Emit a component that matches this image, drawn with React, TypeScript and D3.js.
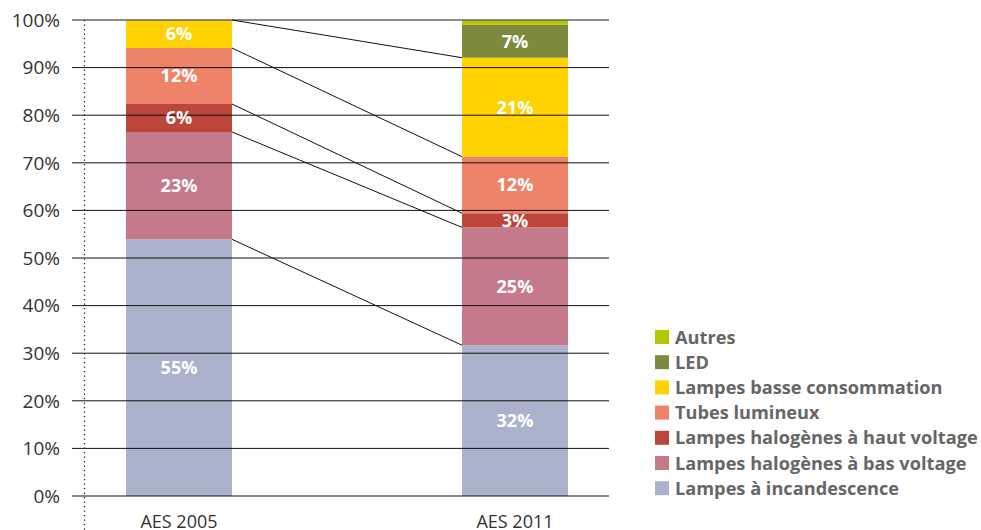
import React from "react";
import * as d3 from "d3";

const categories = ["AES 2005", "AES 2011"];
const seriesNames = [
  "Lampes à incandescence",
  "Lampes halogènes à bas voltage",
  "Lampes halogènes à haut voltage",
  "Tubes lumineux",
  "Lampes basse consommation",
  "LED",
  "Autres",
];
const seriesColors = ["#abb2cc", "#c47a8b", "#bd463a", "#ee836a", "#ffd200", "#7d8a3d", "#b3c800"];
const values2005 = [55, 23, 6, 12, 6, 0, 0];
const values2011 = [32, 25, 3, 12, 21, 7, 1];
const showLabel2011 = [true, true, true, true, true, true, false];
const yTicks = [0, 10, 20, 30, 40, 50, 60, 70, 80, 90, 100];

const W = 981;
const H = 530;
const font = "'Open Sans', 'Noto Sans', sans-serif";

export default function App() {
  const y = d3.scaleLinear().domain([0, 100]).range([496, 20]);
  const x = d3.scaleBand().domain(categories).range([58.8, 635.2]).paddingInner(0.6845).paddingOuter(0.2);
  const bw = x.bandwidth();
  const data = [values2005, values2011];
  const stacks = data.map((vals) => {
    const total = d3.sum(vals);
    let acc = 0;
    return vals.map((v) => {
      const y0 = (acc / total) * 100;
      acc += v;
      const y1 = (acc / total) * 100;
      return { v, y0, y1 };
    });
  });
  const x0 = x(categories[0])!;
  const x1 = x(categories[1])!;

  return (
    <svg width={W} height={H} style={{ position: "absolute", left: 0, top: 0, background: "#fff" }}>
      {stacks.map((st, ci) =>
        st.map((s, si) =>
          s.v > 0 ? (
            <rect
              key={`b${ci}-${si}`}
              x={x(categories[ci])}
              y={y(s.y1)}
              width={bw}
              height={y(s.y0) - y(s.y1)}
              fill={seriesColors[si]}
            />
          ) : null
        )
      )}
      {yTicks.map((t) => (
        <line
          key={`g${t}`}
          x1={72}
          x2={609}
          y1={y(t)}
          y2={y(t)}
          stroke={t === 100 ? "#666" : "#111"}
          strokeWidth={t === 100 ? 1.5 : 1}
        />
      ))}
      <line x1={84.5} x2={84.5} y1={20} y2={530} stroke="#222" strokeWidth={1.3} strokeDasharray="1.3,3.2" />
      {stacks[0].map((s, si) =>
        s.v > 0 ? (
          <line
            key={`c${si}`}
            x1={x0 + bw}
            y1={y(s.y1)}
            x2={x1}
            y2={y(stacks[1][si].y1)}
            stroke="#111"
            strokeWidth={1}
          />
        ) : null
      )}
      {stacks.map((st, ci) =>
        st.map((s, si) =>
          s.v > 0 && (ci === 0 || showLabel2011[si]) ? (
            <text
              key={`l${ci}-${si}`}
              x={x(categories[ci])! + bw / 2}
              y={(y(s.y0) + y(s.y1)) / 2}
              dy="0.36em"
              textAnchor="middle"
              fill="#fff"
              fontFamily={font}
              fontWeight="bold"
              fontSize={18}
            >
              {s.v}%
            </text>
          ) : null
        )
      )}
      {yTicks.map((t) => (
        <text
          key={`t${t}`}
          x={60}
          y={y(t)}
          dy="0.36em"
          textAnchor="end"
          fill="#333"
          fontFamily={font}
          fontSize={19}
        >
          {t}%
        </text>
      ))}
      {categories.map((c) => (
        <text
          key={c}
          x={x(c)! + bw / 2}
          y={528}
          textAnchor="middle"
          fill="#333"
          fontFamily={font}
          fontSize={18}
        >
          {c}
        </text>
      ))}
      {seriesNames
        .map((n, i) => ({ n, i }))
        .reverse()
        .map((d, k) => (
          <g key={d.n} transform={`translate(655, ${337 + k * 25.2})`}>
            <rect x={0} y={-7} width={14} height={14} fill={seriesColors[d.i]} />
            <text x={20} y={0} dy="0.36em" fill="#666" fontFamily={font} fontWeight="bold" fontSize={18.2}>
              {d.n}
            </text>
          </g>
        ))}
    </svg>
  );
}
